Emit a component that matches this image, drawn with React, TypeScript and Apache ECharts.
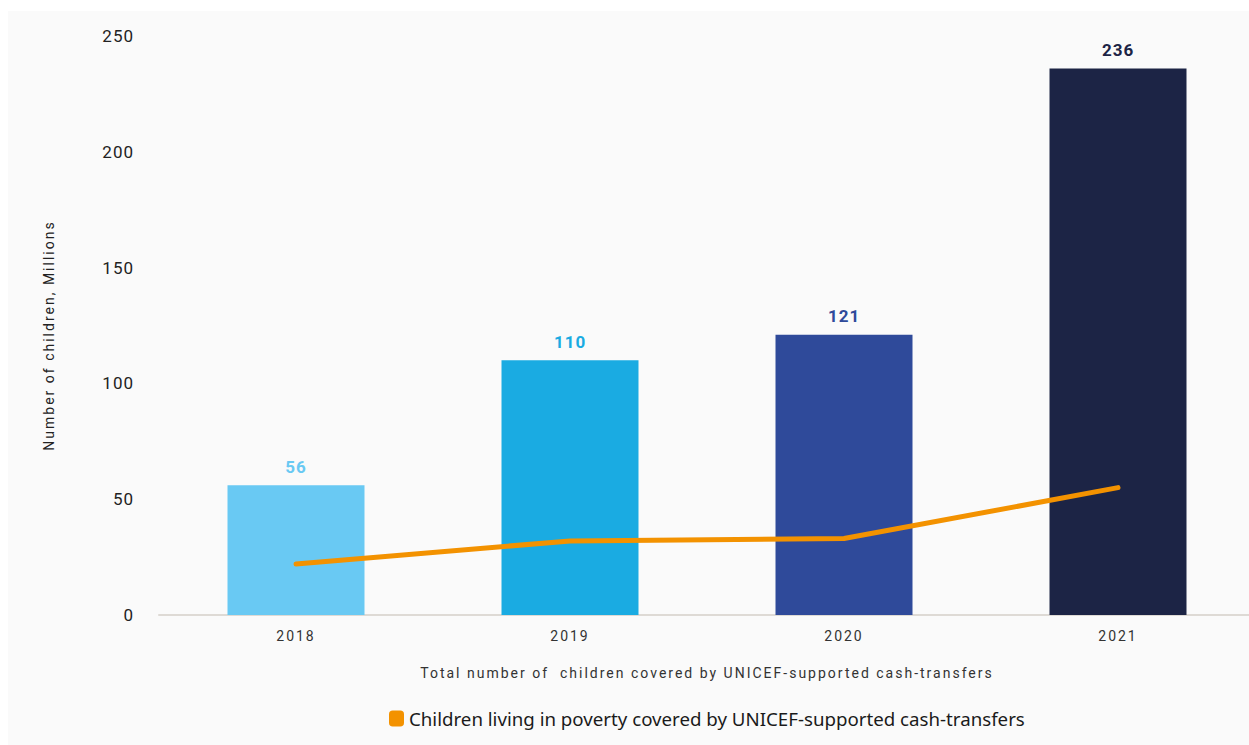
import React, { useEffect, useRef } from "react";
import * as echarts from "echarts";

const categories = ["2018", "2019", "2020", "2021"];
const totalCovered = [56, 110, 121, 236];
const povertyCovered = [22, 32, 33, 55];
const barColors = ["#69c9f3", "#1aabe2", "#2f4a9a", "#1c2445"];
const yTicks = [0, 50, 100, 150, 200, 250];

const css = `
.uc-chart text[style*="Roboto"] { letter-spacing: 1px; }
.uc-chart text[style*="Roboto, sans-serif"] { letter-spacing: 2px; }
`;

export default function App() {
  const ref = useRef<HTMLDivElement>(null);
  useEffect(() => {
    if (!ref.current) return;
    const chart = echarts.init(ref.current, undefined, { renderer: "svg" });
    chart.setOption({
      animation: false,
      backgroundColor: "#fafafa",
      grid: { left: 151, top: 25, width: 1096, height: 579 },
      legend: {
        data: [{ name: "Children living in poverty covered by UNICEF-supported cash-transfers", icon: "roundRect" }],
        left: 376,
        top: 693,
        itemWidth: 15,
        itemHeight: 16,
        itemGap: 6,
        textStyle: { fontFamily: "Noto Sans", fontSize: 18.7, color: "#1a1a1a" },
      },
      xAxis: {
        type: "category",
        data: categories,
        name: "Total number of  children covered by UNICEF-supported cash-transfers",
        nameLocation: "middle",
        nameGap: 51,
        nameTextStyle: { fontFamily: "Roboto, sans-serif", fontSize: 14, color: "#333" },
        axisLine: { lineStyle: { color: "#dedad5", width: 2 } },
        axisTick: { show: false },
        axisLabel: { fontFamily: "Roboto, sans-serif", fontSize: 14, color: "#333", margin: 14 },
      },
      yAxis: {
        type: "value",
        min: yTicks[0],
        max: yTicks[yTicks.length - 1],
        interval: 50,
        name: "Number of children, Millions",
        nameLocation: "middle",
        nameGap: 103,
        nameTextStyle: { fontFamily: "Roboto, sans-serif", fontSize: 14, color: "#222", padding: [0, 0, 0, -20] },
        axisLine: { show: false },
        axisTick: { show: false },
        splitLine: { show: false },
        axisLabel: { fontFamily: "Roboto", fontSize: 17, color: "#222", margin: 25 },
      },
      series: [
        {
          type: "bar",
          name: "Total",
          barWidth: "50%",
          data: totalCovered.map((v, i) => ({
            value: v,
            itemStyle: { color: barColors[i] },
            label: { color: barColors[i] },
          })),
          label: {
            show: true,
            position: "top",
            distance: 10,
            fontFamily: "Roboto",
            fontWeight: "bold",
            fontSize: 17,
          },
        },
        {
          type: "line",
          name: "Children living in poverty covered by UNICEF-supported cash-transfers",
          data: povertyCovered,
          showSymbol: false,
          symbol: "none",
          itemStyle: { color: "#f39200" },
          lineStyle: { color: "#f39200", width: 5, cap: "round" },
        },
      ],
    });
    return () => chart.dispose();
  }, []);
  return (
    <div
      className="uc-chart"
      style={{
        position: "absolute",
        left: 8,
        top: 11,
        width: 1241,
        height: 734,
        overflow: "hidden",
        background: "#fafafa",
      }}
    >
      <style>{css}</style>
      <div ref={ref} style={{ width: 1260, height: 734 }} />
    </div>
  );
}
